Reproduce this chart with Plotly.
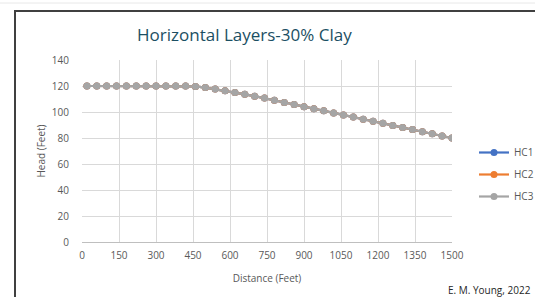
import plotly.graph_objects as go

distance = [20, 60, 100, 140, 180, 220, 260, 300, 340, 380, 420, 460, 500, 540,
            580, 620, 660, 700, 740, 780, 820, 860, 900, 940, 980, 1020, 1060,
            1100, 1140, 1180, 1220, 1260, 1300, 1340, 1380, 1420, 1460, 1500]
head = [120, 120, 120, 120, 120, 120, 120, 120, 120, 120, 120, 119.7, 118.8,
        117.6, 116.3, 115.0, 113.6, 112.2, 110.7, 109.1, 107.4, 105.8, 104.1,
        102.5, 100.9, 99.3, 97.7, 96.1, 94.5, 92.9, 91.3, 89.7, 88.1, 86.5,
        84.9, 83.2, 81.6, 80.0]
series_names = ["HC1", "HC2", "HC3"]
series_colors = ["#4472C4", "#ED7D31", "#A5A5A5"]
x_ticks = list(range(0, 1501, 150))
y_ticks = list(range(0, 141, 20))

FONT = "Open Sans"
TICK_COLOR = "#595959"

W, H = 535, 297
L, T = 82, 60
PW, PH = 370, 182
R, B = W - L - PW, H - T - PH

def px(x):
    return (x - L) / PW

def py(y):
    return 1 - (y - T) / PH

fig = go.Figure()
for name, color in zip(series_names, series_colors):
    fig.add_trace(go.Scatter(
        x=distance, y=head, name=name, mode="lines+markers",
        legendgroup=name,
        line=dict(color=color, width=2.2),
        marker=dict(color=color, size=7),
    ))

fig.update_layout(
    width=W, height=H,
    margin=dict(l=L, r=R, t=T, b=B, pad=0, autoexpand=False),
    paper_bgcolor="white", plot_bgcolor="white",
    font=dict(family=FONT, color=TICK_COLOR, size=10),
    title=dict(text="Horizontal Layers-30% Clay", x=px(251), xanchor="center",
               y=1 - 35 / H, yanchor="middle",
               font=dict(family=FONT, size=17, color="#1B4F63")),
    xaxis=dict(range=[0, 1500], tickvals=x_ticks, showgrid=True,
               gridcolor="#D9D9D9", gridwidth=1, zeroline=False,
               showline=True, linecolor="#BFBFBF", linewidth=1,
               ticks="", ticklabelstandoff=4,
               tickfont=dict(size=10, color=TICK_COLOR),
               title=dict(text="Distance (Feet)", standoff=13,
                          font=dict(size=10, color=TICK_COLOR))),
    yaxis=dict(range=[0, 140], tickvals=y_ticks, showgrid=True,
               gridcolor="#D9D9D9", gridwidth=1, zeroline=False,
               showline=False, ticks="", ticklabelstandoff=12,
               tickfont=dict(size=10, color=TICK_COLOR),
               title=dict(text="Head (Feet)", standoff=4,
                          font=dict(size=10, color=TICK_COLOR))),
    showlegend=True,
    legend=dict(x=px(474), y=py(138), xanchor="left", yanchor="top",
                bgcolor="rgba(0,0,0,0)", font=dict(size=10, color=TICK_COLOR),
                tracegroupgap=3, itemwidth=30),
    annotations=[dict(text="E. M. Young, 2022", xref="paper", yref="paper",
                      x=px(533), y=py(290), xanchor="right", yanchor="middle",
                      showarrow=False, font=dict(size=10, color="#262626"))],
    shapes=[
        dict(type="line", xref="paper", yref="paper", x0=px(0), x1=px(540),
             y0=py(3), y1=py(3), line=dict(color="#E8E8E8", width=1)),
        dict(type="line", xref="paper", yref="paper", x0=px(15), x1=px(540),
             y0=py(11), y1=py(11), line=dict(color="#404040", width=2)),
        dict(type="line", xref="paper", yref="paper", x0=px(15), x1=px(15),
             y0=py(10), y1=py(300), line=dict(color="#404040", width=2)),
    ],
)

fig.write_html("out.html",
               config={"displayModeBar": False},
               post_script="document.body.style.margin='0';"
                           "document.body.style.overflow='hidden';")
